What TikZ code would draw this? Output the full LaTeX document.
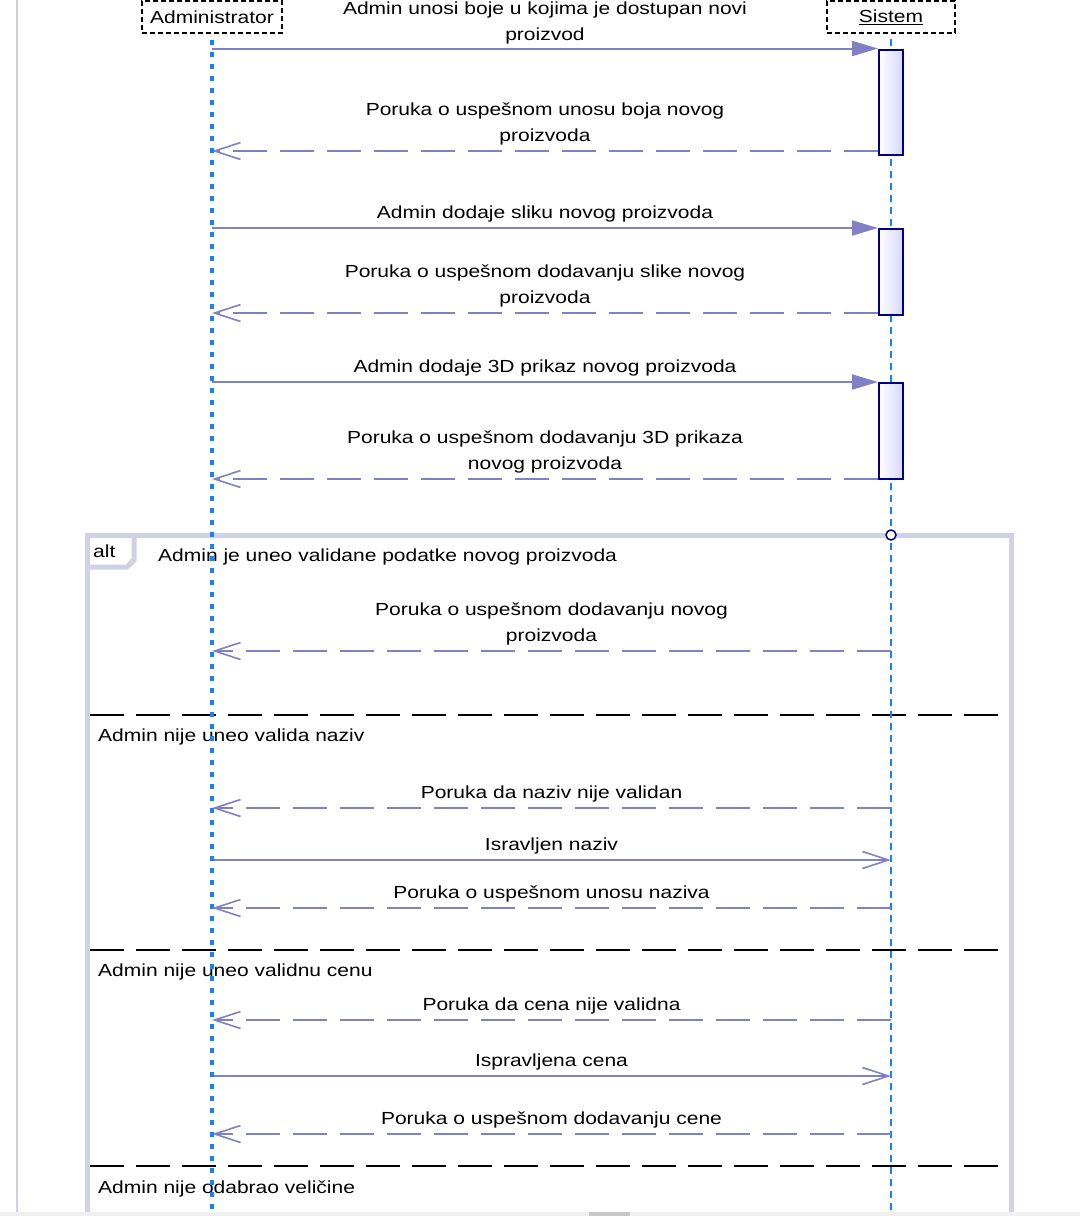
\documentclass[tikz,border=0pt]{standalone}
\usepackage{fontspec}
\setmainfont[FakeStretch=1.2]{Liberation Sans}
\usetikzlibrary{arrows.meta,positioning}
\definecolor{msgline}{RGB}{128,128,196}
\definecolor{lifeblue}{RGB}{20,130,255}
\definecolor{framegray}{RGB}{208,208,232}
\definecolor{actborder}{RGB}{0,0,128}
\definecolor{actfill}{RGB}{214,214,255}

\begin{document}
\begin{tikzpicture}[x=1pt, y=-1pt, font=\fontsize{17.5}{26}\selectfont,
  actor/.style={draw=black, line width=2pt, dash pattern=on 5pt off 3pt, inner sep=0, minimum height=32pt},
  activation/.style={draw=actborder, line width=2pt, left color=white, right color=actfill, minimum width=24pt, inner sep=0},
  sync/.style={draw=msgline, line width=2pt, -{Triangle[length=26pt,width=15pt]}},
  async/.style={draw=msgline, line width=2pt, -{Straight Barb[length=26pt,width=17pt,line width=1.6pt]}},
  reply/.style={async, dash pattern=on 34pt off 13pt},
  msgtext/.style={above=5pt, inner sep=0, text depth=4pt, align=center, text=black},
  guard/.style={anchor=base west, inner sep=0},
  sep/.style={draw=black, line width=2pt, dash pattern=on 34pt off 12pt}]
\useasboundingbox (0,0) rectangle (1080,1216);

% frame of the alt fragment
\draw [framegray, line width=2.5pt] (17,0) -- (17,1216);
\draw [framegray, line width=5pt] (87,535) rectangle (1011,1240);
\draw [framegray, line width=5pt] (87,567) -- (127,567) -- (134,560) -- (134,535);
\node [guard] (alttag) at (93,557) {alt};
\node [guard] (g1) at (158,561) {Admin je uneo validane podatke novog proizvoda};
\draw [sep] (90,715) -- (1008,715);
\node [guard] (g2) at (98,741) {Admin nije uneo valida naziv};
\draw [sep] (90,950) -- (1008,950);
\node [guard] (g3) at (98,976) {Admin nije uneo validnu cenu};
\draw [sep] (90,1166) -- (1008,1166);
\node [guard] (g4) at (98,1193) {Admin nije odabrao veličine};

% participants
\node [actor, minimum width=140pt] (adm) at (212,17) {Administrator};
\node [actor, minimum width=128pt] (sys) at (891,17) {\underline{Sistem}};
\coordinate (admend) at (212,1216);
\coordinate (sysend) at (891,1212);
\draw [lifeblue, line width=2pt, dash pattern=on 7pt off 5pt, shorten <=5pt] (sys.south) -- (sysend);

\node [activation, minimum height=105pt] (act1) at (891,102) {};
\node [activation, minimum height=86pt] (act2) at (891,272) {};
\node [activation, minimum height=96pt] (act3) at (891,431) {};

% rows of the messages
\coordinate (r1) at (0,151);
\coordinate (r2) at (0,313);
\coordinate (r3) at (0,479);
\coordinate (r4) at (0,651);
\coordinate (r5) at (0,808);
\coordinate (s4) at (0,860);
\coordinate (r6) at (0,908);
\coordinate (r7) at (0,1020);
\coordinate (s5) at (0,1076);
\coordinate (r8) at (0,1134);

\path
(adm |- act1.north) edge [sync] node [msgtext, yshift=-2pt] {Admin unosi boje u kojima je dostupan novi\\proizvod} (act1.north west)
(act1.west |- r1)   edge [reply] node [msgtext] {Poruka o uspešnom unosu boja novog\\proizvoda} (adm |- r1)
(adm |- act2.north) edge [sync] node [msgtext] {Admin dodaje sliku novog proizvoda} (act2.north west)
(act2.west |- r2)   edge [reply] node [msgtext] {Poruka o uspešnom dodavanju slike novog\\proizvoda} (adm |- r2)
(adm |- act3.north) edge [sync] node [msgtext] {Admin dodaje 3D prikaz novog proizvoda} (act3.north west)
(act3.west |- r3)   edge [reply] node [msgtext] {Poruka o uspešnom dodavanju 3D prikaza\\novog proizvoda} (adm |- r3)
(sys |- r4) edge [reply] node [msgtext] {Poruka o uspešnom dodavanju novog\\proizvoda} (adm |- r4)
(sys |- r5) edge [reply] node [msgtext] {Poruka da naziv nije validan} (adm |- r5)
(adm |- s4) edge [async] node [msgtext] {Isravljen naziv} (sys |- s4)
(sys |- r6) edge [reply] node [msgtext] {Poruka o uspešnom unosu naziva} (adm |- r6)
(sys |- r7) edge [reply] node [msgtext] {Poruka da cena nije validna} (adm |- r7)
(adm |- s5) edge [async] node [msgtext] {Ispravljena cena} (sys |- s5)
(sys |- r8) edge [reply] node [msgtext] {Poruka o uspešnom dodavanju cene} (adm |- r8);

\draw [lifeblue, line width=4pt, dash pattern=on 5pt off 7pt, shorten <=6pt] (adm.south) -- (admend);
\draw [actborder, line width=1.5pt, fill=white] (891,535) circle (5pt);

% scroll bar at the bottom
\fill [black!6] (0,1212) rectangle (1080,1216);
\fill [black!22] (589,1212) rectangle (630,1216);
\end{tikzpicture}
\end{document}
